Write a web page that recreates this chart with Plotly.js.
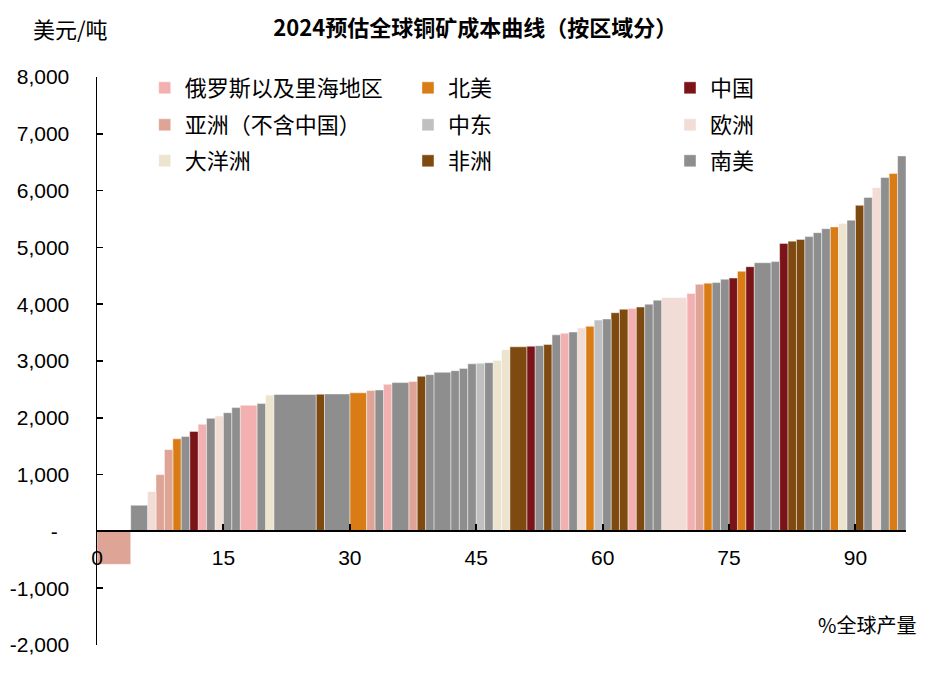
<!DOCTYPE html>
<html>
<head>
<meta charset="utf-8">
<script src="https://cdn.plot.ly/plotly-3.0.1.min.js"></script>
<style>html,body{margin:0;padding:0;background:#fff;}#chart{width:943px;height:677px;}</style>
</head>
<body>
<div id="chart"></div>
<script>
// Regions (legend order) and their colours
const regions = ['俄罗斯以及里海地区', '北美', '中国', '亚洲（不含中国）', '中东', '欧洲', '大洋洲', '非洲', '南美'];
const regionColors = ['#F2B0B0', '#D97C15', '#7B1418', '#DEA495', '#C0C0C0', '#F2DCD6', '#ECE4CE', '#7E4A0F', '#8E8E8E'];

// Mines in ascending cost order: region index, share of global output (%), cost (USD/t)
const mineRegion = [3, 8, 5, 3, 3, 1, 8, 2, 0, 8, 5, 8, 8, 0, 8, 6, 8, 7, 8, 1,
                    3, 8, 0, 8, 3, 7, 8, 8, 8, 8, 8, 4, 8, 6, 6, 7, 2, 8, 7, 8,
                    0, 8, 5, 1, 4, 8, 7, 7, 0, 7, 8, 8, 5, 0, 3, 1, 8, 8, 2, 1,
                    2, 8, 8, 2, 7, 7, 8, 8, 8, 1, 6, 8, 7, 8, 5, 8, 1, 8];
const mineShare = [4, 2, 1, 1, 1, 1, 1, 1, 1, 1, 1, 1, 1, 2, 1, 1, 5, 1, 3, 2,
                   1, 1, 1, 2, 1, 1, 1, 2, 1, 1, 1, 1, 1, 1, 1, 2, 1, 1, 1, 1,
                   1, 1, 1, 1, 1, 1, 1, 1, 1, 1, 1, 1, 3, 1, 1, 1, 1, 1, 1, 1,
                   1, 2, 1, 1, 1, 1, 1, 1, 1, 1, 1, 1, 1, 1, 1, 1, 1, 1];
const mineCost = [-580, 460, 700, 1000, 1440, 1630, 1670, 1760, 1885, 1990, 2030, 2090, 2180, 2220, 2250, 2400, 2410, 2415, 2420, 2440,
                  2480, 2490, 2590, 2620, 2640, 2730, 2760, 2800, 2830, 2870, 2950, 2960, 2970, 3010, 3200, 3250, 3260, 3270, 3290, 3460,
                  3490, 3510, 3580, 3610, 3720, 3740, 3850, 3910, 3925, 3950, 4000, 4070, 4120, 4190, 4350, 4370, 4380, 4440, 4460, 4580,
                  4660, 4730, 4750, 5070, 5110, 5140, 5190, 5260, 5330, 5360, 5420, 5480, 5740, 5880, 6050, 6230, 6300, 6610];

// Axis ticks
const xTicks = [0, 15, 30, 45, 60, 75, 90];
const yTicks = [-2000, -1000, 0, 1000, 2000, 3000, 4000, 5000, 6000, 7000, 8000];
const yTickText = ['-2,000', '-1,000', '-\u00a0\u00a0', '1,000', '2,000', '3,000', '4,000', '5,000', '6,000', '7,000', '8,000'];

// Build traces: bar centres from cumulative share
const cum = [];
let acc = 0;
mineShare.forEach(function (w) { cum.push(acc + w / 2); acc += w; });

const legendPos = [
  [0.059, 0.9806], [0.3844, 0.9806], [0.7083, 0.9806],
  [0.059, 0.9155], [0.3844, 0.9155], [0.7083, 0.9155],
  [0.059, 0.8521], [0.3844, 0.8521], [0.7083, 0.8521]
];

const traces = regions.map(function (name, r) {
  const xs = [], ws = [], ys = [];
  mineRegion.forEach(function (reg, i) {
    if (reg === r) { xs.push(cum[i]); ws.push(mineShare[i]); ys.push(mineCost[i]); }
  });
  return {
    type: 'bar', name: name, x: xs, y: ys, width: ws,
    marker: { color: regionColors[r], line: { color: 'rgba(255,255,255,0.55)', width: 0.8 } },
    legend: r === 0 ? 'legend' : 'legend' + (r + 1),
    hoverinfo: 'name+y'
  };
});

const cjk = '"Noto Sans CJK SC", "Noto Sans", sans-serif';
const num = '"Liberation Sans", Arial, sans-serif';

const layout = {
  width: 943, height: 677,
  margin: { l: 97, r: 37, t: 77, b: 32 },
  paper_bgcolor: '#fff', plot_bgcolor: '#fff',
  barmode: 'overlay', bargap: 0,
  showlegend: true,
  title: {
    text: '<b>2024预估全球铜矿成本曲线（按区域分）</b>',
    x: 0.504, xanchor: 'center', xref: 'container',
    y: 1 - 28 / 677, yanchor: 'middle', yref: 'container',
    font: { family: cjk, size: 22, color: '#000' }
  },
  xaxis: {
    range: [0, 96], tickvals: xTicks, ticktext: xTicks.map(String),
    ticks: 'inside', ticklen: 6, tickwidth: 2, tickcolor: '#000',
    showline: true, linecolor: '#000', linewidth: 2,
    anchor: 'free', position: 0.2,
    showgrid: false, zeroline: false,
    ticklabelstandoff: 7,
    tickfont: { family: num, size: 21, color: '#000' },
    fixedrange: true
  },
  yaxis: {
    range: [-2000, 8000], tickvals: yTicks, ticktext: yTickText,
    ticks: 'inside', ticklen: 6, tickwidth: 1.5, tickcolor: '#000',
    showline: true, linecolor: '#000', linewidth: 1.5,
    showgrid: false, zeroline: false,
    ticklabelstandoff: 22,
    tickfont: { family: num, size: 21, color: '#000' },
    fixedrange: true
  },
  annotations: [
    { text: '美元/吨', xref: 'paper', yref: 'paper', x: (31 - 97) / 809, y: (645 - 28) / 568,
      xanchor: 'left', yanchor: 'middle', showarrow: false, font: { family: cjk, size: 22, color: '#000' } },
    { text: '%全球产量', xref: 'paper', yref: 'paper', x: (918 - 97) / 809, y: (645 - 624) / 568,
      xanchor: 'right', yanchor: 'middle', showarrow: false, font: { family: cjk, size: 20, color: '#000' } }
  ]
};

legendPos.forEach(function (p, i) {
  const key = i === 0 ? 'legend' : 'legend' + (i + 1);
  layout[key] = {
    x: p[0], y: p[1], xanchor: 'left', yanchor: 'middle',
    bgcolor: 'rgba(0,0,0,0)', borderwidth: 0,
    font: { family: cjk, size: 22, color: '#000' }
  };
});

Plotly.newPlot('chart', traces, layout, { displayModeBar: false, staticPlot: true });
</script>
</body>
</html>
